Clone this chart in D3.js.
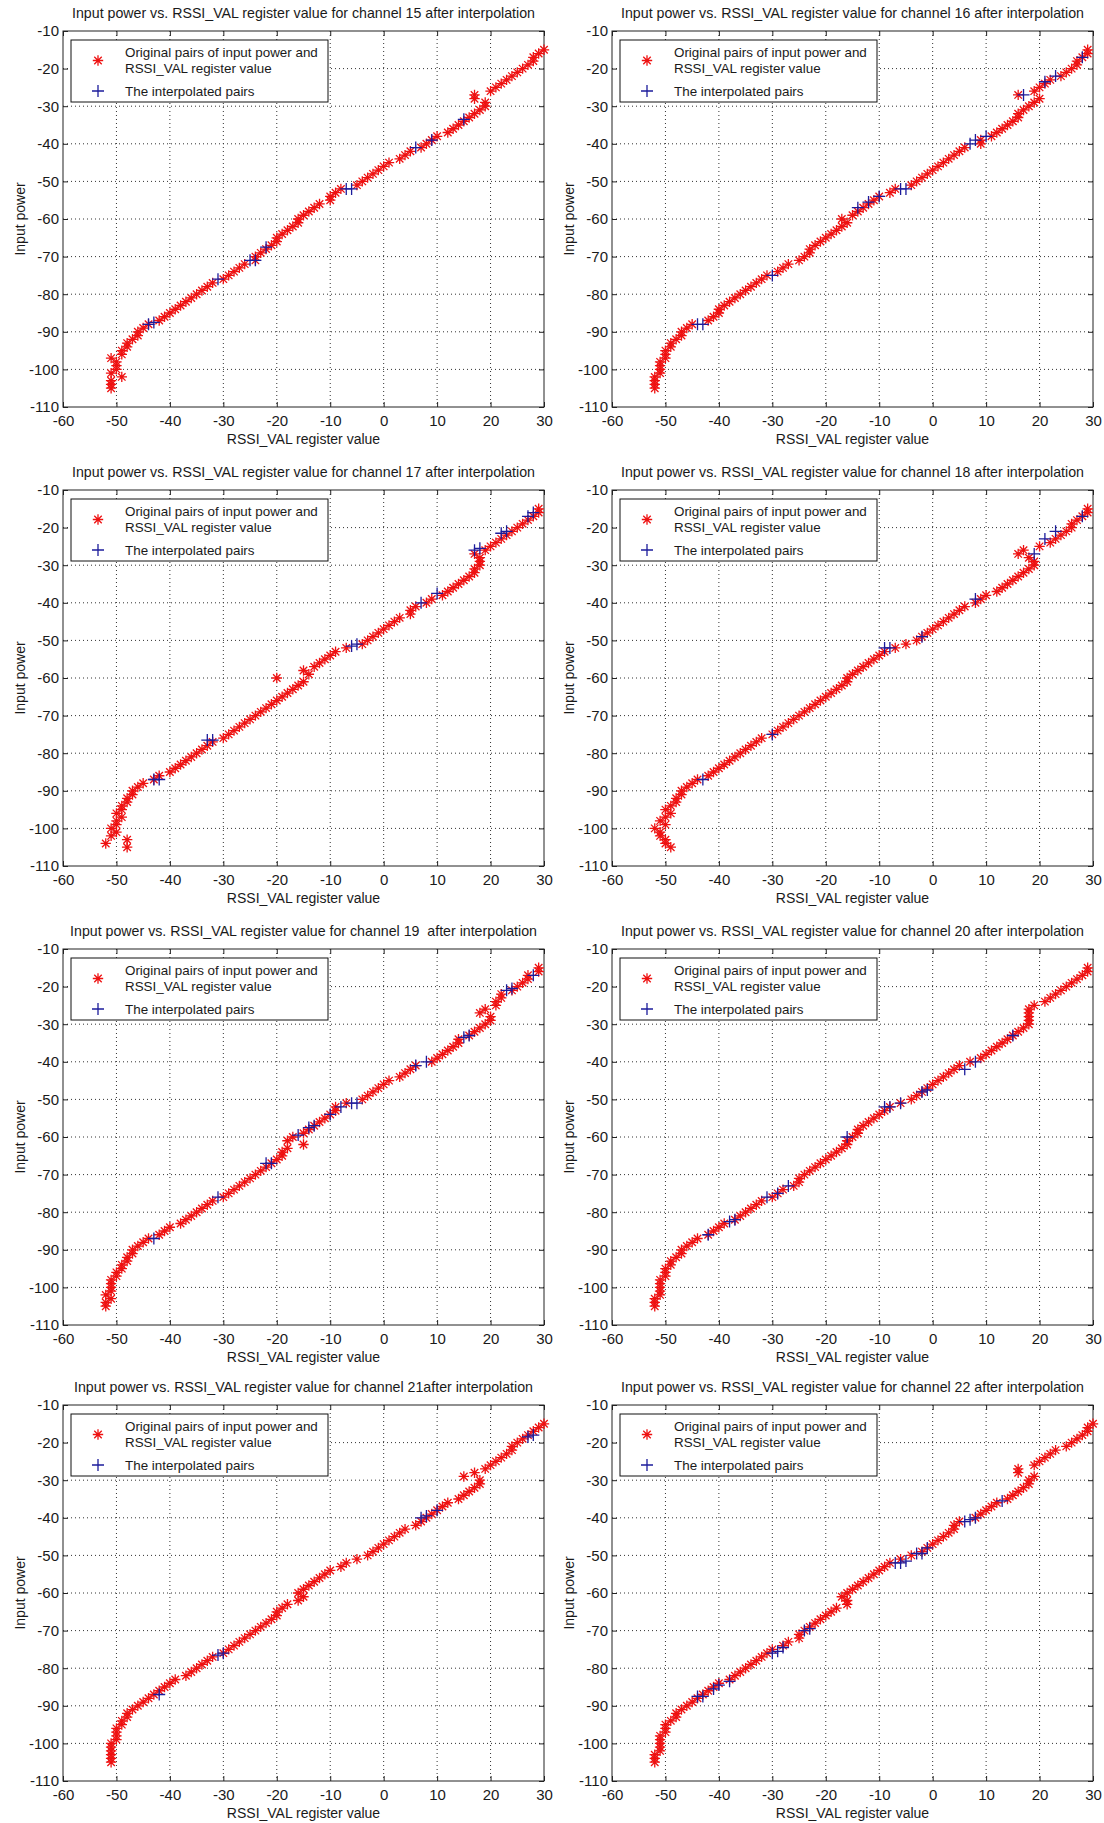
<!DOCTYPE html>
<html>
<head>
<meta charset="utf-8" />
<script src="https://d3js.org/d3.v7.min.js"></script>
<title>Input power vs. RSSI_VAL register value</title>
<style>
  body { margin: 0; background: #fff; }
  svg text { font-family: "Liberation Sans", Arial, sans-serif; fill: #1a1a1a; }
</style>
</head>
<body>
<svg id="chart" width="1104" height="1823"></svg>
<script>
// tick values
const xTicks = [-60, -50, -40, -30, -20, -10, 0, 10, 20, 30];
const yTicks = [-110, -100, -90, -80, -70, -60, -50, -40, -30, -20, -10];

// measured input power levels (dBm), shared by all channels
const powerLevels = [-105,-104,-103,-102,-101,-100,-99,-98,-97,-96,-95,-94,-93,-92,-91,-90,-89,-88,-87,-86,
  -85,-84,-83,-82,-81,-80,-79,-78,-77,-76,-75,-74,-73,-72,-71,-70,-69,-68,-67,-66,
  -65,-64,-63,-62,-61,-60,-59,-58,-57,-56,-55,-54,-53,-52,-51,-50,-49,-48,-47,-46,
  -45,-44,-43,-42,-41,-40,-39,-38,-37,-36,-35,-34,-33,-32,-31,-30,-29,-28,-27,-26,
  -25,-24,-23,-22,-21,-20,-19,-18,-17,-16,-15];

// RSSI_VAL read for each power level (original pairs)
const rssiCh15 = [-51,-51,-51,-49,-51,-50,-50,-50,-51,-49, -49,-48,-48,-47,-46,-46,-45,-44,-42,-41,
  -40,-39,-38,-37,-36,-35,-34,-33,-32,-30, -29,-28,-27,-26,-24,-24,-23,-22,-21,-20,
  -20,-19,-18,-17,-16,-16,-15,-14,-13,-12, -10,-10,-9,-8,-5,-4,-3,-2,-1,0,
  1,3,4,5,7,8,9,10,12,13, 14,15,16,17,18,19,19,17,17,20, 21,22,23,24,25,26,27,28,28,29, 30];
const rssiCh16 = [-52,-52,-52,-52,-51,-51,-51,-51,-50,-50, -50,-49,-49,-48,-47,-47,-46,-45,-42,-41,
  -40,-40,-39,-38,-37,-36,-35,-34,-33,-32, -31,-29,-28,-27,-25,-24,-23,-23,-22,-21,
  -20,-19,-18,-17,-16,-17,-15,-14,-13,-12, -11,-10,-8,-7,-4,-3,-2,-1,0,1,
  2,3,4,5,6,9,9,11,12,13, 14,15,16,16,17,18,19,20,16,19, 20,21,22,24,25,26,27,27,28,29, 29];
const rssiCh17 = [-48,-52,-48,-51,-50,-51,-50,-50,-49,-50, -49,-49,-48,-48,-47,-47,-46,-45,-43,-42,
  -40,-39,-38,-37,-36,-35,-34,-33,-32,-30, -29,-28,-27,-26,-25,-24,-23,-22,-21,-20,
  -19,-18,-17,-16,-15,-20,-14,-15,-13,-12, -11,-10,-9,-7,-4,-3,-2,-1,0,1,
  2,3,5,5,6,8,9,11,12,13, 14,15,16,17,17,18,18,18,17,19, 20,21,22,23,24,25,26,27,28,29, 29];
const rssiCh18 = [-49,-50,-50,-51,-51,-52,-50,-51,-50,-49, -50,-49,-48,-48,-47,-47,-46,-45,-44,-42,
  -41,-40,-39,-38,-37,-36,-35,-34,-33,-32, -30,-29,-28,-27,-26,-25,-24,-23,-22,-21,
  -20,-19,-18,-17,-16,-16,-15,-14,-13,-12, -11,-10,-9,-7,-5,-3,-2,-1,0,1,
  2,3,4,5,6,8,9,10,12,13, 14,15,16,17,18,19,19,18,16,17, 20,22,23,24,25,26,26,27,28,29, 29];
const rssiCh19 = [-52,-52,-51,-52,-51,-51,-51,-51,-50,-50, -49,-49,-48,-48,-47,-47,-46,-45,-44,-42,
  -41,-40,-38,-37,-36,-35,-34,-33,-32,-30, -29,-28,-27,-26,-25,-24,-23,-22,-21,-20,
  -19,-19,-18,-15,-18,-17,-15,-14,-13,-12, -11,-10,-9,-9,-7,-4,-3,-2,-1,0,
  1,3,4,5,6,9,10,11,12,13, 14,14,16,17,18,19,20,20,18,19, 21,21,22,22,24,25,26,27,27,29, 29];
const rssiCh20 = [-52,-52,-52,-51,-51,-51,-51,-51,-50,-50, -50,-49,-49,-48,-47,-47,-46,-45,-44,-42,
  -41,-40,-39,-37,-36,-35,-34,-33,-32,-30, -29,-28,-26,-25,-25,-24,-23,-22,-21,-20,
  -19,-18,-17,-16,-16,-15,-14,-14,-13,-12, -11,-10,-9,-8,-6,-4,-3,-2,-1,0,
  1,2,3,4,5,7,9,10,11,12, 13,14,15,16,17,18,18,18,18,18, 19,21,22,23,24,25,26,27,28,29, 29];
const rssiCh21 = [-51,-51,-51,-51,-51,-51,-50,-50,-50,-50, -49,-49,-48,-48,-47,-46,-45,-44,-43,-42,
  -41,-40,-39,-37,-36,-35,-34,-33,-32,-30, -29,-28,-27,-26,-25,-24,-23,-22,-21,-20,
  -20,-19,-18,-16,-15,-16,-15,-14,-13,-12, -11,-10,-8,-7,-5,-3,-2,-1,0,1,
  2,3,4,6,7,8,9,10,11,12, 14,15,16,17,18,18,15,17,19,20, 21,22,23,24,24,25,26,27,28,29, 30];
const rssiCh22 = [-52,-52,-52,-51,-51,-51,-51,-51,-50,-50, -50,-49,-48,-48,-47,-46,-45,-44,-43,-42,
  -41,-40,-38,-37,-36,-35,-34,-33,-32,-31, -30,-28,-27,-25,-25,-24,-23,-22,-21,-20,
  -19,-18,-16,-16,-17,-16,-15,-14,-13,-12, -11,-10,-9,-8,-6,-4,-2,-1,0,1,
  2,3,4,4,5,8,9,10,11,12, 14,15,16,17,18,18,19,16,16,19, 20,21,22,23,25,26,27,28,29,29, 30];

// interpolated pairs [RSSI_VAL, input power]
const interpCh15 = [[-44,-88],[-43,-87.5],[-31,-76],[-25,-71],[-24,-71],[-22,-67.5],[-7,-52],[-6,-52],[6,-41],[9,-39],[15,-33.5]];
const interpCh16 = [[-44,-88],[-43,-88],[-30,-75],[-14,-57],[-12,-55.5],[-10,-54],[-6,-52],[-5,-52],[7,-40],[8,-39],[10,-38],[17,-27],[21,-23.5],[23,-22],[28,-17]];
const interpCh17 = [[-43,-87],[-42,-87],[-33,-76.5],[-32,-76.5],[-6,-51.5],[-5,-51],[7,-40],[10,-37.5],[17,-26],[18,-25.5],[22,-21.5],[23,-21],[27,-17],[28,-16]];
const interpCh18 = [[-43,-87],[-30,-75],[-9,-52],[-8,-52],[-2,-49],[8,-39],[19,-27],[21,-23],[23,-21],[28,-17]];
const interpCh19 = [[-43,-87],[-31,-76],[-22,-67],[-21,-67],[-16,-59.5],[-14,-57.5],[-13,-57],[-10,-54],[-8,-52],[-6,-51],[-5,-51],[6,-41],[8,-40],[15,-33.5],[16,-33],[23,-21],[24,-20.5],[28,-17]];
const interpCh20 = [[-42,-86],[-38,-82.5],[-37,-82],[-31,-76],[-29,-75],[-27,-73],[-16,-60],[-9,-52],[-8,-52],[-6,-51],[-2,-48],[-1,-47.5],[6,-42],[8,-40],[15,-33]];
const interpCh21 = [[-42,-87],[-31,-76.5],[-30,-76],[7,-40],[8,-39.5],[10,-38],[27,-18.5],[28,-18]];
const interpCh22 = [[-44,-87.5],[-43,-87.5],[-41,-85.5],[-40,-84.5],[-38,-83.5],[-30,-76],[-29,-75.5],[-28,-74.5],[-24,-70],[-23,-69.5],[-7,-52],[-6,-52],[-5,-51.5],[-3,-49.5],[-2,-49.5],[-1,-48],[6,-41],[7,-40.5],[8,-40],[13,-35.5]];

const titles = [
  "Input power vs. RSSI_VAL register value for channel 15 after interpolation",
  "Input power vs. RSSI_VAL register value for channel 16 after interpolation",
  "Input power vs. RSSI_VAL register value for channel 17 after interpolation",
  "Input power vs. RSSI_VAL register value for channel 18 after interpolation",
  "Input power vs. RSSI_VAL register value for channel 19  after interpolation",
  "Input power vs. RSSI_VAL register value for channel 20 after interpolation",
  "Input power vs. RSSI_VAL register value for channel 21after interpolation",
  "Input power vs. RSSI_VAL register value for channel 22 after interpolation"
];
const originalSeries = [rssiCh15, rssiCh16, rssiCh17, rssiCh18, rssiCh19, rssiCh20, rssiCh21, rssiCh22];
const interpSeries = [interpCh15, interpCh16, interpCh17, interpCh18, interpCh19, interpCh20, interpCh21, interpCh22];

// layout
const colX = [63, 612];
const rowY = [31, 490, 949, 1405];
const plotW = 481, plotH = 376;

const red = "#ee1111", blue = "#1c1c9c";

function starPath(r) {
  const d = r * 0.72;
  return `M${-r},0H${r}M0,${-r}V${r}M${-d},${-d}L${d},${d}M${-d},${d}L${d},${-d}`;
}
function plusPath(r) {
  return `M${-r},0H${r}M0,${-r}V${r}`;
}

const svg = d3.select("#chart");

function drawPanel(i) {
  const g = svg.append("g")
    .attr("transform", `translate(${colX[i % 2]},${rowY[Math.floor(i / 2)]})`);

  const x = d3.scaleLinear().domain([-60, 30]).range([0, plotW]);
  const y = d3.scaleLinear().domain([-110, -10]).range([plotH, 0]);

  // dotted grid
  g.append("g").selectAll("line").data(xTicks.slice(1, -1)).join("line")
    .attr("x1", d => x(d)).attr("x2", d => x(d))
    .attr("y1", 0).attr("y2", plotH)
    .attr("stroke", "#333").attr("stroke-dasharray", "1,3");
  g.append("g").selectAll("line").data(yTicks.slice(1, -1)).join("line")
    .attr("y1", d => y(d)).attr("y2", d => y(d))
    .attr("x1", 0).attr("x2", plotW)
    .attr("stroke", "#333").attr("stroke-dasharray", "1,3");

  // axes, ticks pointing inward, plain hyphen minus like the original
  const tickFont = "15px";
  const fmt = d => String(d);
  const bottom = g.append("g").attr("transform", `translate(0,${plotH})`)
    .call(d3.axisBottom(x).tickValues(xTicks).tickFormat(fmt).tickSizeInner(-5).tickSizeOuter(0).tickPadding(8));
  const left = g.append("g")
    .call(d3.axisLeft(y).tickValues(yTicks).tickFormat(fmt).tickSizeInner(-5).tickSizeOuter(0).tickPadding(4));
  g.append("g").call(d3.axisTop(x).tickValues(xTicks).tickSizeInner(-5).tickSizeOuter(0).tickFormat(""));
  g.append("g").attr("transform", `translate(${plotW},0)`)
    .call(d3.axisRight(y).tickValues(yTicks).tickSizeInner(-5).tickSizeOuter(0).tickFormat(""));
  g.selectAll(".domain").remove();
  g.selectAll(".tick line").attr("stroke", "#222");
  [bottom, left].forEach(a => a.selectAll("text")
    .style("font-size", tickFont).style("font-family", '"Liberation Sans", Arial, sans-serif').attr("fill", "#1a1a1a"));

  // frame
  g.append("rect").attr("width", plotW).attr("height", plotH)
    .attr("fill", "none").attr("stroke", "#222").attr("stroke-width", 1);

  // original pairs
  const rssi = originalSeries[i];
  g.append("g").selectAll("path").data(powerLevels.map((p, k) => [rssi[k], p])).join("path")
    .attr("d", starPath(5.2))
    .attr("transform", d => `translate(${x(d[0])},${y(d[1])})`)
    .attr("fill", "none").attr("stroke", red).attr("stroke-width", 1.3);

  // interpolated pairs
  g.append("g").selectAll("path").data(interpSeries[i]).join("path")
    .attr("d", plusPath(6))
    .attr("transform", d => `translate(${x(d[0])},${y(d[1])})`)
    .attr("fill", "none").attr("stroke", blue).attr("stroke-width", 1.3);

  // legend
  const lg = g.append("g").attr("transform", `translate(8,9)`);
  lg.append("rect").attr("width", 257).attr("height", 62)
    .attr("fill", "#fff").attr("stroke", "#111");
  lg.append("path").attr("d", starPath(5.2))
    .attr("transform", `translate(27,20.5)`)
    .attr("fill", "none").attr("stroke", red).attr("stroke-width", 1.3);
  lg.append("path").attr("d", plusPath(6))
    .attr("transform", `translate(27,51)`)
    .attr("fill", "none").attr("stroke", blue).attr("stroke-width", 1.3);
  const legendLines = [["Original pairs of input power and", 12], ["RSSI_VAL register value", 28.5], ["The interpolated pairs", 51]];
  lg.selectAll("text").data(legendLines).join("text")
    .attr("x", 54).attr("y", d => d[1])
    .attr("dy", "0.35em").style("font-size", "13.4px")
    .text(d => d[0]);

  // title and axis labels
  g.append("text").attr("x", plotW / 2).attr("y", -13)
    .attr("text-anchor", "middle").style("font-size", "14.2px").style("white-space", "pre")
    .text(titles[i]);
  g.append("text").attr("x", plotW / 2).attr("y", plotH + 37)
    .attr("text-anchor", "middle").style("font-size", "14px")
    .text("RSSI_VAL register value");
  g.append("text").attr("transform", `translate(-38,${plotH / 2}) rotate(-90)`)
    .attr("text-anchor", "middle").style("font-size", "14px")
    .text("Input power");
}

for (let i = 0; i < 8; i++) drawPanel(i);
</script>
</body>
</html>
